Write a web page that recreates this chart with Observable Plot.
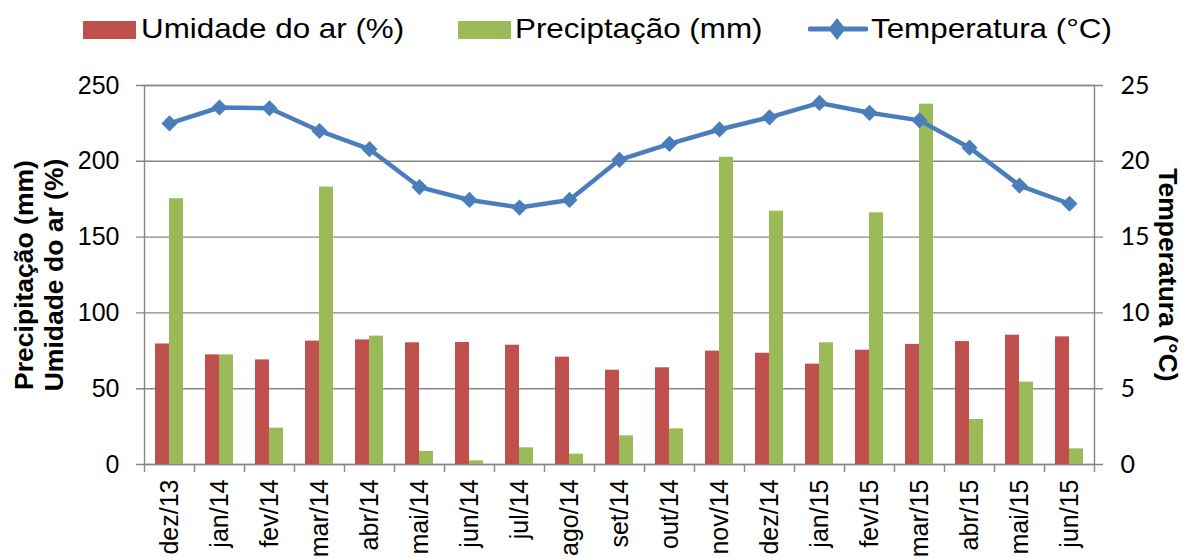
<!DOCTYPE html>
<html>
<head>
<meta charset="utf-8">
<script src="https://cdn.jsdelivr.net/npm/d3@7"></script>
<script src="https://cdn.jsdelivr.net/npm/@observablehq/plot@0.6"></script>
<style>
  html, body { margin: 0; padding: 0; background: #fff; }
  #wrap { position: relative; width: 1182px; height: 559px; overflow: hidden; font-family: "Liberation Sans", Arial, sans-serif; }
  #legend { position: relative; width: 1182px; height: 60px; }
  .sw { position: absolute; }
  .lt { position: absolute; top: 13px; font-size: 28px; line-height: 32px; color: #000; white-space: nowrap; transform: scaleX(1.12); transform-origin: left center; }
</style>
</head>
<body>
<div id="wrap">
  <div id="legend">
    <div class="sw" style="left:83px;top:21px;width:53px;height:18px;background:#C0504D"></div>
    <div class="lt" style="left:141px">Umidade do ar (%)</div>
    <div class="sw" style="left:458px;top:21px;width:53px;height:18px;background:#9BBB59"></div>
    <div class="lt" style="left:515px">Preciptação (mm)</div>
    <svg class="sw" style="left:808px;top:16px" width="60" height="26">
      <line x1="2" y1="13" x2="58" y2="13" stroke="#4A7EBB" stroke-width="5" stroke-linecap="round"></line>
      <path d="M29,2 L37.5,13 L29,24 L20.5,13 Z" fill="#4A7EBB"></path>
    </svg>
    <div class="lt" style="left:871px">Temperatura (°C)</div>
  </div>
  <div id="chart"></div>
</div>
<script>
// Monthly climate series, Dec 2013 – Jun 2015
const months = ["dez/13","jan/14","fev/14","mar/14","abr/14","mai/14","jun/14","jul/14","ago/14","set/14","out/14","nov/14","dez/14","jan/15","fev/15","mar/15","abr/15","mai/15","jun/15"];
const humidity = [79.5, 72.3, 69, 81.4, 82.2, 80.3, 80.5, 78.7, 70.8, 62.2, 63.8, 74.8, 73.4, 66.2, 75.4, 79.2, 81.1, 85.3, 84.2];
const precipitation = [175.3, 72.3, 24, 183, 84.7, 8.6, 2.4, 11, 6.8, 18.9, 23.5, 202.7, 167.1, 80.3, 166, 237.7, 29.7, 54.3, 10.3];
const temperature = [22.5, 23.55, 23.5, 22.0, 20.8, 18.3, 17.45, 16.95, 17.45, 20.1, 21.15, 22.1, 22.9, 23.85, 23.2, 22.7, 20.9, 18.4, 17.2];
const leftTicks = [0, 50, 100, 150, 200, 250];
const rightTicks = [0, 5, 10, 15, 20, 25];

// Temperature shares the left axis, scaled by 10 (25 °C ↔ 250)
const tempFactor = 10;

const rows = months.map((m, i) => ({
  month: m,
  humidity: humidity[i],
  precipitation: precipitation[i],
  temp: temperature[i] * tempFactor
}));

const gridColor = "#868686";

const chart = Plot.plot({
  width: 1182,
  height: 499,
  marginTop: 25,
  marginBottom: 95,
  marginLeft: 144,
  marginRight: 88,
  style: { fontFamily: "'Liberation Sans', Arial, sans-serif", fontSize: "25px", color: "#000", background: "#fff", overflow: "visible" },
  x: { type: "band", domain: months, padding: 0, axis: null },
  y: { domain: [0, 250], axis: null },
  marks: [
    // horizontal gridlines, extended past both axes as tick marks
    Plot.ruleY(leftTicks, { stroke: gridColor, strokeWidth: 1.4, insetLeft: -8, insetRight: -9 }),
    // vertical axis lines
    Plot.frame({ stroke: gridColor, strokeWidth: 1.4 }),
    // category boundary ticks below the baseline
    Plot.axisX({ tickFormat: () => "", tickSize: 8, dx: -25, label: null, stroke: gridColor, strokeWidth: 1.4 }),
    Plot.axisX({ ticks: [months[months.length - 1]], tickFormat: () => "", tickSize: 8, dx: 25, label: null, stroke: gridColor, strokeWidth: 1.4 }),
    // month labels
    Plot.axisX({ tickSize: 0, tickPadding: 15, tickRotate: -90, fontSize: 25, label: null }),
    // left axis
    Plot.axisY({ ticks: leftTicks, tickSize: 0, tickPadding: 25, label: null, fontSize: 25 }),
    // right axis (temperature), labelled in °C
    Plot.axisY({ anchor: "right", ticks: rightTicks.map(t => t * tempFactor), tickFormat: d => String(d / tempFactor), tickSize: 0, tickPadding: 26, label: null, fontSize: 25, fontFamily: "Lato, 'Open Sans', sans-serif" }),
    // axis titles
    Plot.text(["Precipitação (mm)\nUmidade do ar (%)"], { frameAnchor: "left", dx: -106, rotate: -90, text: d => d, fontSize: 26.5, fontWeight: "bold", lineHeight: 1.13, textAnchor: "middle", fill: "#000" }),
    Plot.text(["Temperatura (°C)"], { frameAnchor: "right", dx: 73, rotate: 90, text: d => d, fontSize: 26.5, fontWeight: "bold", textAnchor: "middle", fill: "#000" }),
    // grouped bars
    Plot.barY(rows, { x: "month", y: "humidity", fill: "#C0504D", insetLeft: 11, insetRight: 25 }),
    Plot.barY(rows, { x: "month", y: "precipitation", fill: "#9BBB59", insetLeft: 25, insetRight: 11 }),
    // temperature line with diamond markers
    Plot.line(rows, { x: "month", y: "temp", stroke: "#4A7EBB", strokeWidth: 4.5, strokeLinejoin: "round" }),
    Plot.dot(rows, { x: "month", y: "temp", symbol: "diamond2", r: 7.3, fill: "#4A7EBB", stroke: "none" })
  ]
});

document.getElementById("chart").appendChild(chart);
</script>
</body>
</html>
